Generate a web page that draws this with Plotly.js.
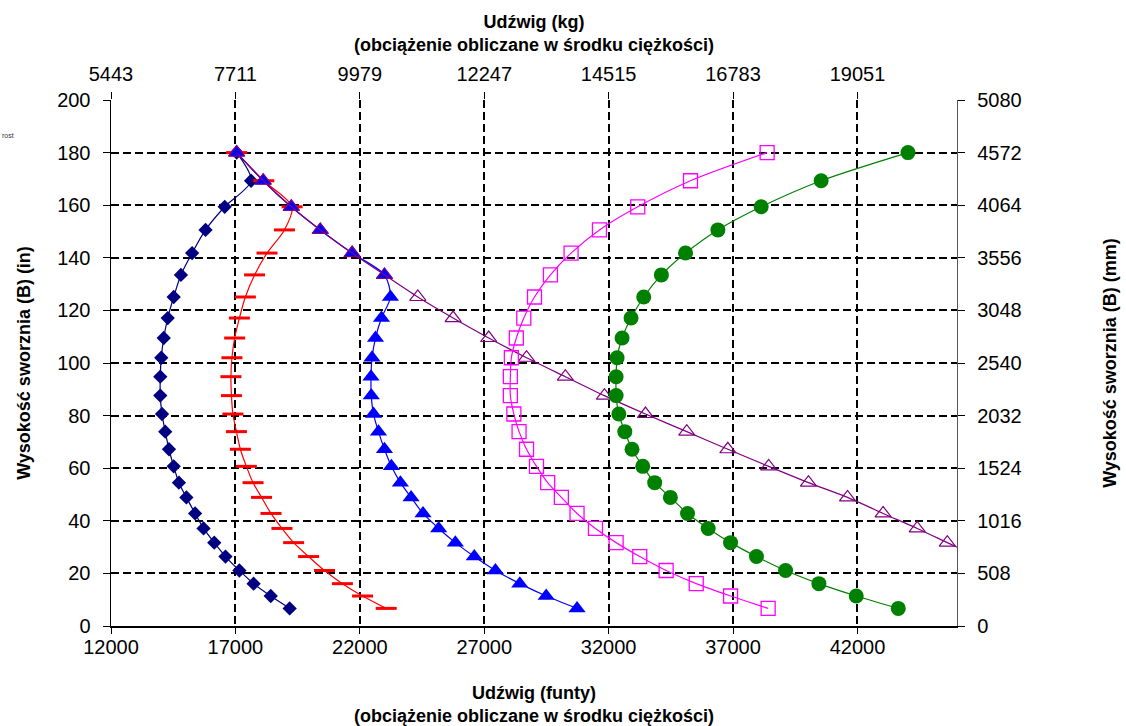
<!DOCTYPE html>
<html>
<head>
<meta charset="utf-8">
<script src="https://cdn.plot.ly/plotly-3.0.1.min.js"></script>
<style>
  html, body { margin: 0; padding: 0; background: #fff; }
  #chart { width: 1126px; height: 726px; }
</style>
</head>
<body>
<div id="chart"></div>
<script>
// Pin height (in) shared by all series
const heightIn = [180, 169.3, 159.4, 150.6, 141.8, 133.5, 125.1, 117.1, 109.5, 102, 94.8, 87.6, 80.6, 73.9, 67.2, 60.7, 54.5, 48.9, 42.8, 37.1, 31.7, 26.4, 21.1, 16.1, 11.4, 6.7];

// Capacities (lbs) for each series
const seriesNavy = [17050, 17630, 16570, 15800, 15260, 14810, 14520, 14280, 14120, 14020, 13980, 13980, 14050, 14180, 14330, 14520, 14730, 15030, 15380, 15720, 16150, 16600, 17160, 17730, 18420, 19180];
const seriesRed = [17050, 18140, 19280, 18970, 18270, 17770, 17400, 17160, 16970, 16860, 16820, 16840, 16900, 17040, 17200, 17440, 17710, 18050, 18430, 18870, 19340, 19940, 20580, 21300, 22110, 23060];
const seriesBlue = [17050, 18110, 19240, 20410, 21690, 22990, 23230, 22870, 22630, 22490, 22450, 22460, 22550, 22750, 22990, 23270, 23630, 24060, 24540, 25170, 25840, 26600, 27450, 28430, 29490, 30730];
const heightPurple = [180, 169.3, 159.4, 150.6, 141.8, 133.5, 125.1, 117.1, 109.5, 102, 94.8, 87.6, 80.6, 73.9, 67.2, 60.7, 54.5, 48.9, 42.8, 37.1, 31.7, 26.4];
const seriesPurple = [17050, 18120, 19250, 20410, 21690, 22990, 24330, 25750, 27180, 28700, 30260, 31830, 33480, 35140, 36790, 38430, 40030, 41600, 43030, 44400, 45610, 46800];
const seriesMagenta = [38370, 35290, 33170, 31630, 30490, 29660, 29020, 28590, 28290, 28090, 28050, 28050, 28190, 28400, 28700, 29100, 29550, 30100, 30730, 31470, 32300, 33250, 34310, 35520, 36900, 38410];
const seriesGreen = [44030, 40540, 38130, 36390, 35090, 34120, 33410, 32900, 32540, 32340, 32300, 32300, 32410, 32650, 32940, 33370, 33850, 34480, 35170, 36000, 36900, 37940, 39110, 40450, 41950, 43640];

// Axis ticks and labels
const xTicksLbs = [12000, 17000, 22000, 27000, 32000, 37000, 42000];
const xTickLabelsKg = ['5443', '7711', '9979', '12247', '14515', '16783', '19051'];
const yTicksIn = [0, 20, 40, 60, 80, 100, 120, 140, 160, 180, 200];
const yTickLabelsMm = ['0', '508', '1016', '1524', '2032', '2540', '3048', '3556', '4064', '4572', '5080'];

const xRange = [12000, 46000];
const yRange = [0, 200];

const FONT = 'Liberation Sans, Arial, sans-serif';

function tr(x, y, color, marker) {
  return {
    type: 'scatter', mode: 'lines+markers', x: x, y: y,
    line: { color: color, width: 1.2, shape: 'spline', smoothing: 0.8 },
    marker: marker, showlegend: false, hoverinfo: 'x+y'
  };
}

const data = [
  tr(seriesNavy, heightIn, '#000080', { symbol: 'diamond', size: 11, color: '#000080', line: { width: 0 } }),
  tr(seriesRed, heightIn, '#FF0000', { symbol: 'line-ew', size: 15, color: '#FF0000', line: { width: 3, color: '#FF0000' } }),
  tr(seriesBlue, heightIn, '#0000FF', { symbol: 'triangle-up', size: 15, color: '#0000FF', line: { width: 0 } }),
  tr(seriesPurple, heightPurple, '#800080', { symbol: 'triangle-up-open', size: 14, color: '#800080', line: { width: 1.2, color: '#800080' } }),
  tr(seriesMagenta, heightIn, '#FF00FF', { symbol: 'square-open', size: 14, color: '#FF00FF', line: { width: 1.3, color: '#FF00FF' } }),
  tr(seriesGreen, heightIn, '#008000', { symbol: 'circle', size: 15, color: '#008000', line: { width: 0 } })
];

const gridCommon = {
  showgrid: true, gridcolor: '#000000', gridwidth: 2, griddash: '8px,4px',
  zeroline: false
};

const layout = {
  width: 1126, height: 726,
  margin: { l: 111, r: 169, t: 100, b: 100 },
  paper_bgcolor: '#ffffff', plot_bgcolor: '#ffffff',
  font: { family: FONT, color: '#000000', size: 20 },
  xaxis: Object.assign({}, gridCommon, {
    range: xRange, tickvals: xTicksLbs, ticktext: xTicksLbs.map(String),
    showline: true, linecolor: '#000000', linewidth: 1.5,
    ticks: 'outside', ticklen: 6, tickcolor: '#000000', tickwidth: 1,
    ticklabelstandoff: -4,
    tickfont: { family: FONT, size: 20, color: '#000000' },
    title: { text: '<b>Udźwig (funty)<br>(obciążenie obliczane w środku ciężkości)</b>', font: { family: FONT, size: 18, color: '#000000' }, standoff: 30 },
    automargin: false
  }),
  yaxis: Object.assign({}, gridCommon, {
    range: yRange, tickvals: yTicksIn, ticktext: yTicksIn.map(String),
    showline: true, linecolor: '#000000', linewidth: 1.5,
    ticks: 'outside', ticklen: 7, tickcolor: '#000000', tickwidth: 1,
    ticklabelstandoff: 8,
    tickfont: { family: FONT, size: 20, color: '#000000' },
    title: { text: '<b>Wysokość sworznia (B) (in)</b>', font: { family: FONT, size: 18, color: '#000000' }, standoff: 22 },
    automargin: false
  }),
  xaxis2: {
    overlaying: 'x', side: 'top', anchor: 'y', range: xRange,
    tickvals: xTicksLbs, ticktext: xTickLabelsKg,
    showgrid: false, zeroline: false, showline: false,
    ticks: 'outside', ticklen: 7, tickcolor: '#000000', tickwidth: 1,
    ticklabelstandoff: 3,
    tickfont: { family: FONT, size: 20, color: '#000000' },
    title: { text: '<b>Udźwig (kg)<br>(obciążenie obliczane w środku ciężkości)</b>', font: { family: FONT, size: 18, color: '#000000' }, standoff: 6 },
    automargin: false
  },
  yaxis2: {
    overlaying: 'y', side: 'right', anchor: 'x', range: yRange,
    tickvals: yTicksIn, ticktext: yTickLabelsMm,
    showgrid: false, zeroline: false,
    showline: true, linecolor: '#555555', linewidth: 1.2,
    ticks: 'outside', ticklen: 7, tickcolor: '#000000', tickwidth: 1,
    ticklabelstandoff: 8,
    tickfont: { family: FONT, size: 20, color: '#000000' },
    title: { text: '<b>Wysokość sworznia (B) (mm)</b>', font: { family: FONT, size: 18, color: '#000000' }, standoff: 82 },
    automargin: false
  },
  annotations: [
    { text: 'rost', xref: 'paper', yref: 'paper', x: -0.1312, y: 0.9325, xanchor: 'left', yanchor: 'middle', showarrow: false, font: { family: FONT, size: 7, color: '#333333' } }
  ]
};

// invisible helper so the secondary axes are attached to a subplot
data.push({ type: 'scatter', mode: 'markers', x: [], y: [], xaxis: 'x2', yaxis: 'y2', showlegend: false, hoverinfo: 'skip' });

Plotly.newPlot('chart', data, layout, { staticPlot: true, displayModeBar: false });
</script>
</body>
</html>
